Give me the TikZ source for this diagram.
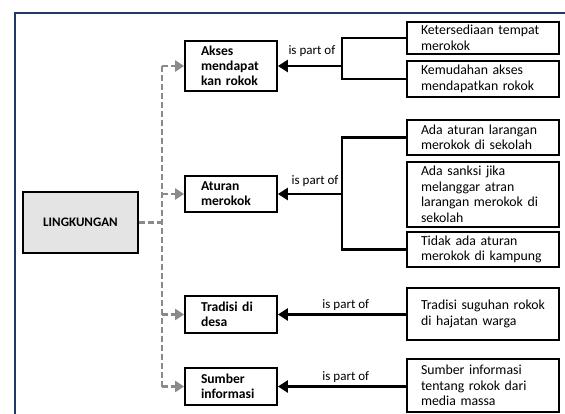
\documentclass[tikz,border=0pt]{standalone}
\usepackage{fontspec}
\setmainfont{Carlito}
\usetikzlibrary{arrows.meta}
\definecolor{marco}{HTML}{1F3864}
\definecolor{garisabu}{HTML}{8A8A8A}
\definecolor{latar}{HTML}{E4E4E4}

\begin{document}
\begin{tikzpicture}[x=1pt,y=-1pt,
    kotak/.style={draw, line width=1.8pt, align=left, inner ysep=0pt,
        font=\fontsize{13.8}{15.5}\selectfont},
    aspek/.style={kotak, font=\fontsize{13.6}{15}\selectfont\bfseries,
        text width=60pt, inner xsep=16pt},
    isi/.style={kotak, text width=124pt, inner xsep=14pt},
    putus/.style={garisabu, line width=2.8pt, dash pattern=on 6pt off 3pt},
    panahabu/.style={putus, -{Triangle[length=9pt,width=11pt]}},
    bagian/.style={line width=2.7pt, -{Triangle[length=10pt,width=12pt]}},
    label/.style={font=\fontsize{13}{15}\selectfont, inner sep=1pt}]
    \useasboundingbox (0,0) rectangle (565,414);

    % Bingkai
    \draw[marco, line width=2.5pt] (15,414) -- (15,13) -- (565,13);

    % Lingkungan
    \node[draw, line width=1.8pt, fill=latar, minimum width=115pt, minimum height=61pt,
        font=\fontsize{13}{15}\selectfont\bfseries] (ling) at (80.5,222.5) {LINGKUNGAN};

    % Aspek lingkungan
    \node[aspek, minimum height=50pt] (akses) at (231,66) {Akses\\mendapat\\kan rokok};
    \node[aspek, minimum height=36pt] (aturan) at (231,194) {Aturan\\merokok};
    \node[aspek, minimum height=37pt] (tradisi) at (231,314.5) {Tradisi di\\desa};
    \node[aspek, minimum height=37pt] (sumber) at (231,386.5) {Sumber\\informasi};

    % Rincian
    \node[isi, minimum height=32pt] (ket) at (483,38) {Ketersediaan tempat\\merokok};
    \node[isi, minimum height=36pt] (kem) at (483,79) {Kemudahan akses\\mendapatkan rokok};
    \node[isi, minimum height=35pt] (adaat) at (483,137.5) {Ada aturan larangan\\merokok di sekolah};
    \node[isi, minimum height=65pt] (sanksi) at (483,194.5) {Ada sanksi jika\\melanggar atran\\larangan merokok di\\sekolah};
    \node[isi, minimum height=35pt] (tidak) at (483,249.5) {Tidak ada aturan\\merokok di kampung};
    \node[isi, minimum height=52pt] (tradsug) at (483,314) {Tradisi suguhan rokok\\di hajatan warga};
    \node[isi, minimum height=53pt] (suminfo) at (483,385.5) {Sumber informasi\\tentang rokok dari\\media massa};

    % Garis putus-putus dari lingkungan
    \coordinate (batang) at (162,222.5);
    \draw[putus] (ling.east) -- (batang);
    \draw[putus] (batang |- akses.west) -- (batang |- sumber.west);
    \foreach \n in {akses,aturan,tradisi,sumber}
        \draw[panahabu] (batang |- \n.west) -- (\n.west);

    % Kurung kanan
    \coordinate (kurung) at (342,0);
    \draw[line width=2.7pt] (ket.west) -- (ket.west -| kurung) -- (kem.west -| kurung) -- (kem.west);
    \draw[line width=2.7pt] (adaat.west) -- (adaat.west -| kurung) -- (tidak.west -| kurung) -- (tidak.west);

    % is part of
    \draw[bagian] (akses.east -| kurung) -- node[label, pos=0.47, yshift=15pt] {is part of} (akses.east);
    \draw[bagian] (aturan.east -| kurung) -- node[label, pos=0.42, yshift=12.7pt] {is part of} (aturan.east);
    \draw[bagian] (tradisi.east -| tradsug.west) -- node[label, pos=0.47, yshift=9pt] {is part of} (tradisi.east);
    \draw[bagian] (sumber.east -| suminfo.west) -- node[label, pos=0.47, yshift=9pt] {is part of} (sumber.east);
\end{tikzpicture}
\end{document}
